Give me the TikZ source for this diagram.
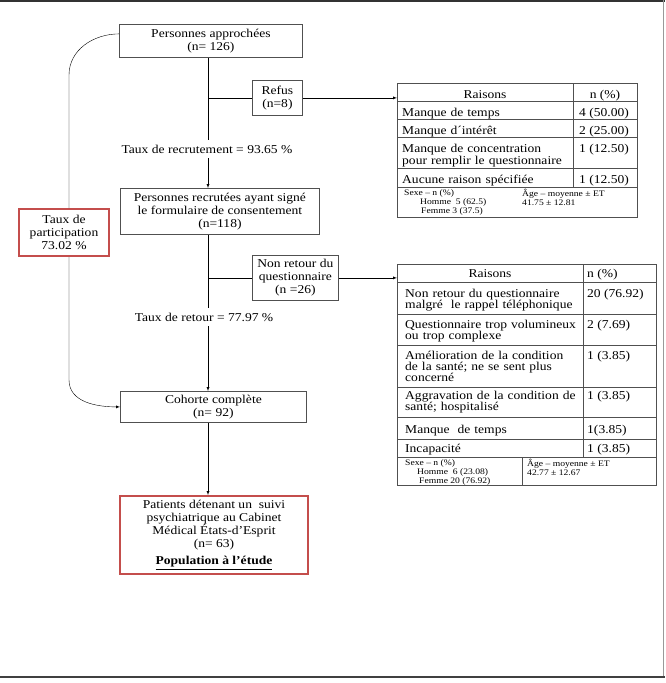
\documentclass[tikz,border=0pt]{standalone}
\usepackage{fontspec}
\setmainfont{Liberation Serif}[FakeStretch=1.13]
\usetikzlibrary{calc,arrows,positioning}
\definecolor{framered}{RGB}{196,78,76}
\definecolor{edgegray}{RGB}{80,80,80}

\begin{document}
\begin{tikzpicture}[x=1pt,y=-1pt,>=latex]
\tikzstyle{box} = [draw=edgegray,line width=.8pt,inner sep=0pt,align=center,anchor=north west,font=\fontsize{12}{13}\selectfont]
\tikzstyle{redbox} = [box,draw=framered,line width=2pt]
\tikzstyle{rate} = [inner sep=0pt,outer sep=5pt,font=\fontsize{12}{13}\selectfont]
\tikzstyle{cell} = [inner sep=0pt,anchor=base west,text width=178pt,align=left]
\tikzstyle{val} = [inner sep=0pt,font=\fontsize{12}{12}\selectfont]
\tikzstyle{footer} = [inner sep=0pt,anchor=north west,align=left,font=\fontsize{8.5}{9.3}\selectfont]
\tikzstyle{rule} = [draw=edgegray,line width=.7pt]
    \useasboundingbox (0,0) rectangle (665,683);
    \coordinate (spine) at (208,0);
    \coordinate (bendtop) at (69,75);
    \coordinate (bendlow) at (69,380);
    \node[box,minimum width=183pt,minimum height=33pt] (approch) at (119,24) {Personnes approchées\\(n= 126)};
    \node[box,minimum width=50pt,minimum height=35pt] (refus) at (252,80) {Refus\\(n=8)};
    \node[rate] (recrut) at (207,149) {Taux de recrutement = 93.65 \%};
    \node[box,minimum width=199pt,minimum height=46pt] (signe) at (120,188) {Personnes recrutées ayant signé\\le formulaire de consentement\\(n=118)};
    \node[box,minimum width=86pt,minimum height=45pt] (nonret) at (252,255) {Non retour du\\questionnaire\\(n =26)};
    \node[rate] (retour) at (204,317) {Taux de retour = 77.97 \%};
    \node[box,minimum width=186pt,minimum height=31pt] (cohorte) at (120,391) {Cohorte complète\\(n= 92)};
    \node[redbox,minimum width=90pt,minimum height=47pt] (particip) at (18,208) {Taux de\\participation\\73.02 \%};
    \node[redbox,minimum width=188pt,minimum height=78pt] (patients) at (119,495) {Patients détenant un~ suivi\\psychiatrique au Cabinet\\Médical États-d’Esprit\\(n= 63)\\[4pt]\underline{\textbf{Population à l’étude}}};

    \node[rule,inner sep=0pt,anchor=north west,minimum width=240pt,minimum height=134pt] (tabA) at (397,83) {};
    \foreach \y in {101,119,137,168,187} \draw[rule] (397,\y) -- (637,\y);
    \draw[rule] (573,83) -- (573,187);
    \node[val,anchor=base] (headA1) at (485,98) {Raisons};
    \node[val,anchor=base] (headA2) at (605,98) {n (\%)};
    \foreach \t/\txt/\num [count=\i] in {101/Manque de temps/4 (50.00), 119/Manque d´intérêt/2 (25.00), 137/{Manque de concentration\\pour remplir le questionnaire}/1 (12.50), 168/Aucune raison spécifiée/1 (12.50)} {
      \node[cell,font=\fontsize{12}{12.6}\selectfont] (rowA\i) at (402,\t+15) {\txt};
      \node[val,anchor=base] (numA\i) at (604,\t+15) {\num};
    }
    \node[footer] (sexA) at (404,189) {Sexe – n (\%)\\\hspace*{16pt}Homme~ 5 (62.5)\\\hspace*{17pt}Femme 3 (37.5)};
    \node[footer] (ageA) at (522,189) {Âge – moyenne ± ET\\41.75 ± 12.81};

    \node[rule,inner sep=0pt,anchor=north west,minimum width=259pt,minimum height=221pt] (tabB) at (397,264) {};
    \foreach \y in {282,314,345,387,417,439,457} \draw[rule] (397,\y) -- (656,\y);
    \draw[rule] (583,264) -- (583,457);
    \draw[rule] (522,457) -- (522,485);
    \node[val,anchor=base] (headB1) at (490,277) {Raisons};
    \node[val,anchor=base west] (headB2) at (587,277) {n (\%)};
    \foreach \b/\txt/\num [count=\i] in {297/{Non retour du questionnaire\\malgré~ le rappel téléphonique}/20 (76.92), 328/{Questionnaire trop volumineux\\ou trop complexe}/2 (7.69), 359/{Amélioration de la condition\\de la santé; ne se sent plus\\concerné}/1 (3.85), 399/{Aggravation de la condition de\\santé; hospitalisé}/1 (3.85), 433/Manque~ de temps/1(3.85), 452/Incapacité/1 (3.85)} {
      \node[cell,font=\fontsize{12}{11.3}\selectfont] (rowB\i) at (405,\b) {\txt};
      \node[val,anchor=base west] (numB\i) at (587,\b) {\num};
    }
    \node[footer] (sexB) at (405,459) {Sexe – n (\%)\\\hspace*{12pt}Homme~ 6 (23.08)\\\hspace*{14pt}Femme 20 (76.92)};
    \node[footer] (ageB) at (527,459) {Âge – moyenne ± ET\\42.77 ± 12.67};

    \draw (approch.south -| spine) -- (recrut.north -| spine);
    \draw[->] (recrut.south -| spine) -- (signe.north -| spine);
    \draw (spine |- refus.west) -- (refus.west);
    \draw[->] (refus.east) -- (refus.east -| tabA.west);
    \draw (signe.south -| spine) -- (retour.north -| spine);
    \draw[->] (retour.south -| spine) -- (cohorte.north -| spine);
    \draw (spine |- nonret.west) -- (nonret.west);
    \draw[->] (nonret.east) -- (nonret.east -| tabB.west);
    \draw[->] (cohorte.south -| spine) -- (patients.north -| spine);
    \draw ([yshift=7pt]approch.west) to[out=180,in=90] (bendtop) -- (particip.north -| bendtop);
    \draw[->] (particip.south -| bendlow) -- (bendlow) to[out=-90,in=180] (cohorte.west);

    \draw[line width=2pt,black!80] (0,1) -- (665,1);
    \draw[line width=1.5pt,black!40] (663.5,0) -- (663.5,677);
    \draw[line width=2pt,black!75] (0,677) -- (665,677);
\end{tikzpicture}
\end{document}
